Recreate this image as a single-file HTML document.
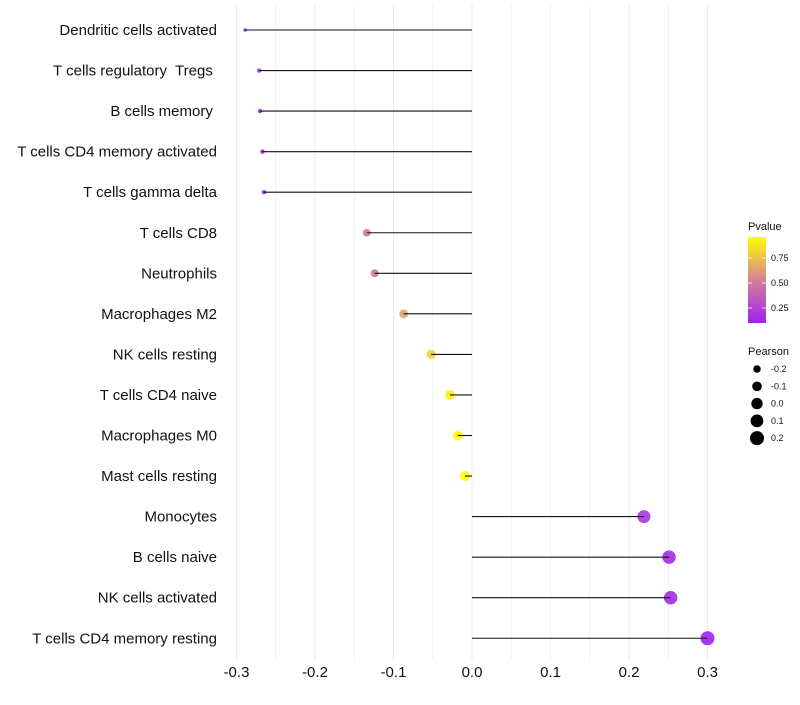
<!DOCTYPE html>
<html><head><meta charset="utf-8"><style>
body{margin:0;background:#fff;font-family:"Liberation Sans",sans-serif}
text{white-space:pre}
</style></head><body>
<svg id="chart" width="800" height="700" xmlns="http://www.w3.org/2000/svg"></svg>
<script>
const categories=["Dendritic cells activated","T cells regulatory  Tregs ","B cells memory ","T cells CD4 memory activated","T cells gamma delta","T cells CD8","Neutrophils","Macrophages M2","NK cells resting","T cells CD4 naive","Macrophages M0","Mast cells resting","Monocytes","B cells naive","NK cells activated","T cells CD4 memory resting"];
const pearson=[-0.289,-0.271,-0.270,-0.267,-0.265,-0.134,-0.124,-0.087,-0.052,-0.028,-0.018,-0.009,0.219,0.251,0.253,0.300];
const pvalue=[0.1,0.12,0.12,0.12,0.12,0.5,0.5,0.65,0.8,0.9,0.95,0.97,0.2,0.15,0.15,0.1];
const xTicks=[-0.3,-0.2,-0.1,0.0,0.1,0.2,0.3];
const xTickLabels=["-0.3","-0.2","-0.1","0.0","0.1","0.2","0.3"];
const legendSizes=[-0.2,-0.1,0.0,0.1,0.2];
const legendPTicks=[0.25,0.5,0.75];

const NS="http://www.w3.org/2000/svg";
const svg=document.getElementById('chart');
function el(t,a,p){const e=document.createElementNS(NS,t);for(const k in a)e.setAttribute(k,a[k]);(p||svg).appendChild(e);return e;}
const x=v=>472+v*785;
const y=i=>30+i*40.55;
const r=v=>Math.sqrt(Math.max(1,25.7+77.7*v));
function lerp(a,b,t){return a.map((c,i)=>Math.round(c+(b[i]-c)*t));}
function col(p){let t=Math.min(1,Math.max(0,(p-0.1)/0.86));const A=[160,32,240],M=[214,128,150],B=[255,255,0];const c=t<0.5?lerp(A,M,t*2):lerp(M,B,(t-0.5)*2);return `rgb(${c})`;}

for(let v=-0.3;v<=0.3001;v+=0.05){
  const g=el('line',{x1:x(v),x2:x(v),y1:5,y2:660,stroke:'#ebebeb','stroke-width':Math.abs((v*20)%2)<0.01?1:0.6});
  
  
}
xTicks.forEach((v,i)=>{
  const t=el('text',{x:x(v),y:677,'text-anchor':'middle','font-size':15,fill:'#111'});
  t.textContent=xTickLabels[i];
  
  
});
categories.forEach((c,i)=>{
  const t=el('text',{x:217,y:y(i)+5,'text-anchor':'end','font-size':15,fill:'#111'});
  t.textContent=c;
  
  
  const d=el('circle',{cx:x(pearson[i]),cy:y(i),r:r(pearson[i]),fill:col(pvalue[i]),'fill-opacity':0.9});
  
  
  const l=el('line',{x1:x(0),x2:x(pearson[i]),y1:y(i),y2:y(i),stroke:'#111','stroke-width':1.1});
  
  
});
const lt=el('text',{x:748,y:230,'font-size':11,fill:'#111'});lt.textContent='Pvalue';


const defs=el('defs',{});
const grad=el('linearGradient',{id:'pg',x1:0,y1:1,x2:0,y2:0},defs);
[0,0.25,0.5,0.75,1].forEach(s=>el('stop',{offset:s,'stop-color':col(0.1+s*0.86)},grad));
const bar=el('rect',{x:748,y:237,width:18,height:86,fill:'url(#pg)'});


legendPTicks.forEach(p=>{
  const yy=323-(p-0.1)*100;
  el('line',{x1:748,x2:752,y1:yy,y2:yy,stroke:'#fff','stroke-width':0.8});
  el('line',{x1:762,x2:766,y1:yy,y2:yy,stroke:'#fff','stroke-width':0.8});
  const t=el('text',{x:771,y:yy+3,'font-size':9,fill:'#111'});t.textContent=p.toFixed(2);
  
  
});
const st=el('text',{x:748,y:355,'font-size':11,fill:'#111'});st.textContent='Pearson';


legendSizes.forEach((v,i)=>{
  const yy=369+i*17.3;
  const c=el('circle',{cx:757,cy:yy,r:r(v)+0.6,fill:'#000'});
  
  
  const t=el('text',{x:771,y:yy+3,'font-size':9,fill:'#111'});t.textContent=v.toFixed(1);
  
  
});
</script>
</body></html>
